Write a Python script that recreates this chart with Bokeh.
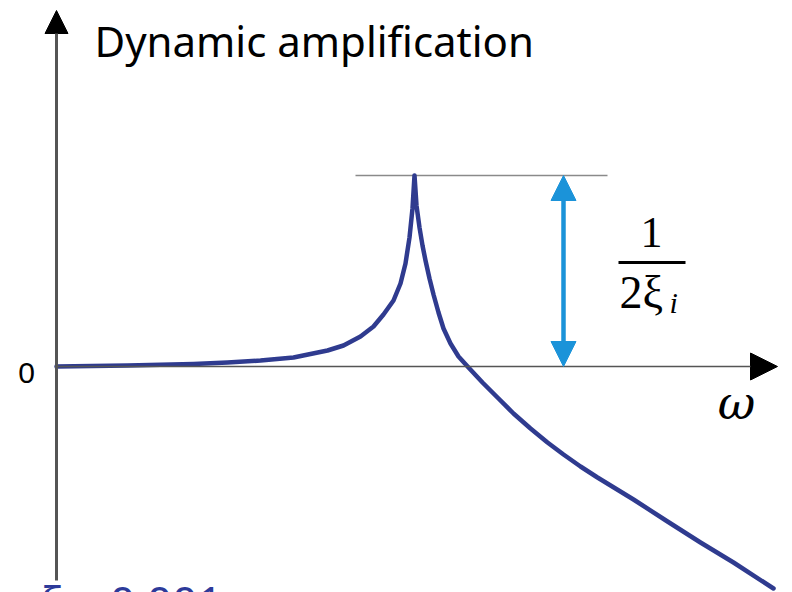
from bokeh.plotting import figure
from bokeh.models import Range1d, Arrow, NormalHead, Label
from bokeh.embed import file_html
from bokeh.resources import INLINE

# Frequency response sketch (log-log style): flat, resonant peak, then roll-off
omega = [0.0, 0.71, 1.37, 1.71, 2.04, 2.37, 2.71, 2.87, 3.04, 3.17, 3.27, 3.37,
         3.44, 3.49, 3.53, 3.56, 3.58,
         3.60, 3.63, 3.66, 3.69, 3.73, 3.77, 3.82, 3.87, 3.94, 4.02, 4.12, 4.26,
         4.41, 4.57, 4.74, 4.91, 5.07, 5.24, 5.41, 5.77, 6.11, 6.44, 6.77, 7.17]
amplification = [0.0, 0.01, 0.025, 0.04, 0.06, 0.09, 0.16, 0.21, 0.30, 0.40, 0.52,
                 0.66, 0.83, 1.03, 1.29, 1.58, 1.91,
                 1.61, 1.39, 1.21, 1.06, 0.88, 0.72, 0.54, 0.38, 0.23, 0.10, -0.01,
                 -0.16, -0.31, -0.47, -0.62, -0.76, -0.88, -1.00, -1.11, -1.33,
                 -1.55, -1.76, -1.96, -2.22]

peak_level = 1.91          # height of the resonance peak
peak_guide_x = [2.99, 5.51]
span_arrow_x = 5.07

title_text = "Dynamic amplification"
zero_text = "0"
omega_text = "ω"
damping_text = "ξ = 0.001"

p = figure(width=792, height=592, output_backend="svg", toolbar_location=None,
           x_range=Range1d(-0.56, 7.36), y_range=Range1d(-2.26, 3.66),
           min_border=0)
p.axis.visible = False
p.grid.visible = False
p.outline_line_color = None
p.background_fill_color = "white"

# axes drawn as arrows
p.add_layout(Arrow(end=NormalHead(size=23, fill_color="black", line_color="black"),
                   x_start=0, y_start=-2.14, x_end=0, y_end=3.56,
                   line_color="#555555", line_width=3))
p.add_layout(Arrow(end=NormalHead(size=27, fill_color="black", line_color="black"),
                   x_start=0, y_start=0, x_end=7.21, y_end=0,
                   line_color="#555555", line_width=1.6))

# guide at the peak level
p.line(peak_guide_x, [peak_level, peak_level], line_color="#8a8a8a", line_width=1.6)

# response curve
p.line(omega, amplification, line_color="#2f3b8f", line_width=4.5,
       line_join="round", line_cap="round")

# double arrow showing the peak height
blue = "#1b93d9"
p.add_layout(Arrow(start=NormalHead(size=25, fill_color=blue, line_color=blue),
                   end=NormalHead(size=25, fill_color=blue, line_color=blue),
                   x_start=span_arrow_x, y_start=0, x_end=span_arrow_x, y_end=peak_level,
                   line_color=blue, line_width=4.5))

# 1 / (2 xi_i)
p.add_layout(Label(x=5.95, y=1.34, text="1", text_align="center", text_baseline="middle",
                   text_font="Liberation Serif", text_font_size="44px", text_color="black"))
p.line([5.62, 6.29], [1.04, 1.04], line_color="black", line_width=2.8)
p.add_layout(Label(x=5.63, y=0.74, text="2ξ", text_align="left", text_baseline="alphabetic",
                   text_font="Liberation Serif", text_font_size="46px", text_color="black"))
p.add_layout(Label(x=6.13, y=0.64, text="i", text_align="left", text_baseline="alphabetic",
                   text_font="Liberation Serif", text_font_style="italic",
                   text_font_size="30px", text_color="black"))

# axis texts
p.add_layout(Label(x=0.38, y=3.26, text=title_text, text_align="left",
                   text_baseline="alphabetic", text_font="Noto Sans",
                   text_font_size="42px", text_color="black"))
p.add_layout(Label(x=-0.30, y=-0.06, text=zero_text, text_align="center",
                   text_baseline="middle", text_font="Liberation Sans",
                   text_font_size="30px", text_color="black"))
p.add_layout(Label(x=6.80, y=-0.36, text=omega_text, text_align="center",
                   text_baseline="middle", text_font="DejaVu Serif",
                   text_font_style="italic", text_font_size="46px", text_color="black"))
p.add_layout(Label(x=-0.16, y=-2.34, text=damping_text, text_align="left",
                   text_baseline="alphabetic", text_font="Noto Sans",
                   text_font_size="44px", text_color="#2d3a9a"))

open("out.html", "w").write(file_html(p, INLINE))
